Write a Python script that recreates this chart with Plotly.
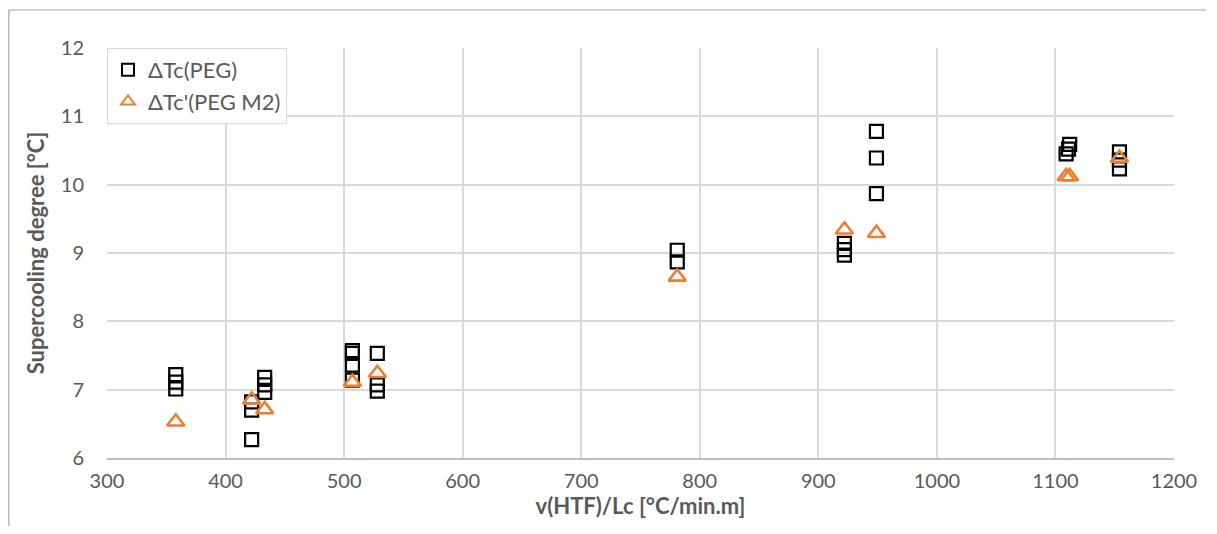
import plotly.graph_objects as go

# Data
peg_x = [358, 358, 358,
         422, 422, 422,
         433, 433, 433,
         507, 507, 507, 507,
         528, 528, 528,
         781, 781,
         922, 922, 922,
         949, 949, 949,
         1109, 1111, 1112,
         1154, 1154, 1154]
peg_y = [7.22, 7.11, 7.01,
         6.82, 6.70, 6.27,
         7.18, 7.07, 6.96,
         7.57, 7.53, 7.36, 7.14,
         7.53, 7.07, 6.98,
         9.04, 8.87,
         9.14, 9.05, 8.97,
         10.78, 10.39, 9.87,
         10.45, 10.52, 10.59,
         10.48, 10.36, 10.23]

m2_x = [358, 422, 433, 507, 528, 781, 922, 949, 1109, 1112, 1154]
m2_y = [6.53, 6.85, 6.71, 7.11, 7.24, 8.65, 9.34, 9.29, 10.12, 10.12, 10.39]

x_ticks = [300, 400, 500, 600, 700, 800, 900, 1000, 1100, 1200]
y_ticks = [6, 7, 8, 9, 10, 11, 12]

FONT = "Lato"
GRAY = "#595959"

fig = go.Figure()
fig.add_trace(go.Scatter(
    x=peg_x, y=peg_y, mode="markers", name="ΔTc(PEG)",
    marker=dict(symbol="square-open", size=13, color="#000000",
                line=dict(width=2.2, color="#000000")),
))
fig.add_trace(go.Scatter(
    x=m2_x, y=m2_y, mode="markers", name="ΔTc'(PEG M2)",
    marker=dict(symbol="triangle-up-open", size=15, color="#ED7D31",
                line=dict(width=2.6, color="#ED7D31")),
))

fig.update_layout(
    width=1201, height=518,
    margin=dict(l=99, r=32, t=40, b=68),
    paper_bgcolor="white", plot_bgcolor="white",
    font=dict(family=FONT, size=20, color=GRAY),
    showlegend=True,
    legend=dict(
        x=0.0, y=1.0, xanchor="left", yanchor="top",
        bgcolor="white", bordercolor="#D9D9D9", borderwidth=1,
        font=dict(family=FONT, size=22, color=GRAY),
        itemsizing="constant", tracegroupgap=0,
    ),
    xaxis=dict(
        range=[300, 1200], tickvals=x_ticks, ticktext=[str(v) for v in x_ticks],
        showgrid=True, gridcolor="#D9D9D9", gridwidth=1.5,
        showline=True, linecolor="#BFBFBF", linewidth=1.5,
        zeroline=False, ticks="", ticklen=0,
        ticklabelstandoff=4,
        tickfont=dict(family=FONT, size=20, color=GRAY),
        title=dict(text="<b>v(HTF)/Lc [°C/min.m]</b>", standoff=4,
                   font=dict(family=FONT, size=22, color=GRAY)),
    ),
    yaxis=dict(
        range=[6, 12], tickvals=y_ticks, ticktext=[str(v) for v in y_ticks],
        showgrid=True, gridcolor="#D9D9D9", gridwidth=1.5,
        showline=False, zeroline=False, ticks="", ticklen=0,
        ticklabelstandoff=22,
        tickfont=dict(family=FONT, size=20, color=GRAY),
        title=dict(text="<b>Supercooling degree [°C]</b>", standoff=10,
                   font=dict(family=FONT, size=22, color=GRAY)),
    ),
    shapes=[
        dict(type="line", xref="paper", yref="paper",
             x0=-0.092, x1=1.03, y0=1.0927, y1=1.0927,
             line=dict(color="#A6A6A6", width=1.2)),
        dict(type="line", xref="paper", yref="paper",
             x0=-0.092, x1=-0.092, y0=-0.2, y1=1.0927,
             line=dict(color="#A6A6A6", width=1.2)),
    ],
)

fig.write_html("out.html")
